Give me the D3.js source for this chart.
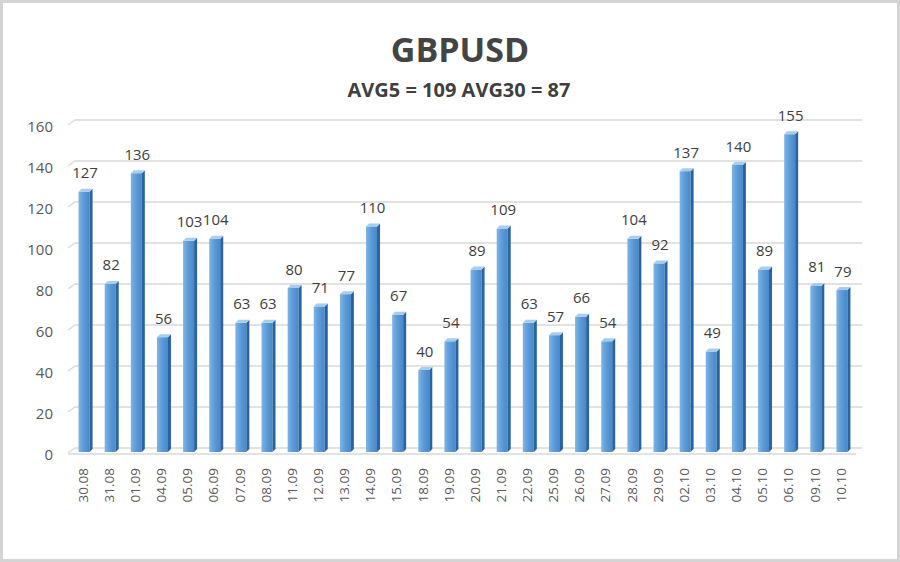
<!DOCTYPE html>
<html>
<head>
<meta charset="utf-8">
<script src="https://cdnjs.cloudflare.com/ajax/libs/d3/7.8.5/d3.min.js"></script>
<style>
body { margin: 0; background: #fff; }
text { font-family: "Open Sans", sans-serif; }
</style>
</head>
<body>
<script>
var dates = ['30.08', '31.08', '01.09', '04.09', '05.09', '06.09', '07.09', '08.09', '11.09', '12.09',
  '13.09', '14.09', '15.09', '18.09', '19.09', '20.09', '21.09', '22.09', '25.09', '26.09',
  '27.09', '28.09', '29.09', '02.10', '03.10', '04.10', '05.10', '06.10', '09.10', '10.10'];
var values = [127, 82, 136, 56, 103, 104, 63, 63, 80, 71,
  77, 110, 67, 40, 54, 89, 109, 63, 57, 66,
  54, 104, 92, 137, 49, 140, 89, 155, 81, 79];
var yTicks = [0, 20, 40, 60, 80, 100, 120, 140, 160];
var title = 'GBPUSD';
var subtitle = 'AVG5 = 109 AVG30 = 87';

var chart = {
  'width': 900,
  'height': 562,
  'left': 71,
  'right': 855,
  'bottom': 452,
  'top': 124,
  'depth': 4,
  'gridEnd': 862
};

var svg = d3.select('body').append('svg')
  .attr('width', chart.width)
  .attr('height', chart.height);

// frame
svg.append('rect')
  .attr('x', 1.5).attr('y', 1.5)
  .attr('width', chart.width - 3).attr('height', chart.height - 3)
  .attr('fill', '#fff')
  .attr('stroke', '#d4d4d4')
  .attr('stroke-width', 3);

var defs = svg.append('defs');
var grad = defs.append('linearGradient').attr('id', 'front')
  .attr('x1', '0%').attr('x2', '100%').attr('y1', '0%').attr('y2', '0%');
grad.append('stop').attr('offset', '0%').attr('stop-color', '#7cb4e6');
grad.append('stop').attr('offset', '50%').attr('stop-color', '#5b9ad6');
grad.append('stop').attr('offset', '100%').attr('stop-color', '#4788c9');

var x = d3.scaleBand().domain(dates).range([chart.left, chart.right]);
var y = d3.scaleLinear().domain([0, 160]).range([chart.bottom, chart.top]);
var d = chart.depth;

// gridlines on the back wall
var grid = svg.append('g');
yTicks.forEach(function(t) {
  grid.append('path')
    .attr('d', 'M' + (chart.left - 3) + ',' + (y(t) + 1) + 'L' + (chart.left + 4) + ',' + (y(t) - d) + 'H' + chart.gridEnd)
    .attr('fill', 'none')
    .attr('stroke', '#d9d9d9')
    .attr('stroke-width', 1.3);
});
// floor front edge
svg.append('path')
  .attr('d', 'M' + (chart.left - 3) + ',' + (chart.bottom + 2) + 'H' + (chart.gridEnd - 6))
  .attr('stroke', '#d9d9d9')
  .attr('stroke-width', 1.5);

// y labels
svg.append('g').selectAll('text')
  .data(yTicks)
  .enter().append('text')
  .attr('x', 53)
  .attr('y', function(t) { return y(t) + 3; })
  .attr('dy', '0.35em')
  .attr('text-anchor', 'end')
  .attr('fill', '#595959')
  .style('font-size', '15px')
  .text(function(t) { return t; });

var half = 5.5;
var cx = function(i) { return x(dates[i]) + x.bandwidth() / 2; };

var bars = svg.append('g').selectAll('g')
  .data(values)
  .enter().append('g');

bars.append('rect')
  .attr('x', function(v, i) { return cx(i) - half; })
  .attr('y', function(v) { return y(v); })
  .attr('width', half * 2)
  .attr('height', function(v) { return chart.bottom - y(v); })
  .attr('fill', 'url(#front)');

bars.append('path')
  .attr('d', function(v, i) {
    var r = cx(i) + half;
    return 'M' + r + ',' + y(v) + 'L' + (r + 3) + ',' + (y(v) - 3) + 'L' + (r + 3) + ',' + (chart.bottom - 3) + 'L' + r + ',' + chart.bottom + 'Z';
  })
  .attr('fill', '#2a64a0');

bars.append('path')
  .attr('d', function(v, i) {
    var l = cx(i) - half, r = cx(i) + half;
    return 'M' + l + ',' + y(v) + 'L' + (l + 3) + ',' + (y(v) - 3) + 'L' + (r + 3) + ',' + (y(v) - 3) + 'L' + r + ',' + y(v) + 'Z';
  })
  .attr('fill', '#a6ccee');

// value labels
bars.append('text')
  .attr('x', function(v, i) { return cx(i) + 1; })
  .attr('y', function(v) { return y(v) - 13.5; })
  .attr('text-anchor', 'middle')
  .attr('fill', '#404040')
  .style('font-size', '15px')
  .text(function(v) { return v; });

// x labels
svg.append('g').selectAll('text')
  .data(dates)
  .enter().append('text')
  .attr('transform', function(s, i) { return 'translate(' + (cx(i) - 1) + ',468) rotate(-90)'; })
  .attr('dy', '0.35em')
  .attr('text-anchor', 'end')
  .attr('fill', '#595959')
  .style('font-size', '13.5px')
  .text(function(s) { return s; });

svg.append('text')
  .attr('x', 460).attr('y', 62)
  .attr('text-anchor', 'middle')
  .attr('fill', '#444')
  .style('font-size', '34px')
  .style('font-weight', 'bold')
  .text(title);

svg.append('text')
  .attr('x', 459).attr('y', 97)
  .attr('text-anchor', 'middle')
  .attr('fill', '#404040')
  .style('font-size', '20px')
  .style('font-weight', 'bold')
  .text(subtitle);
</script>
</body>
</html>
